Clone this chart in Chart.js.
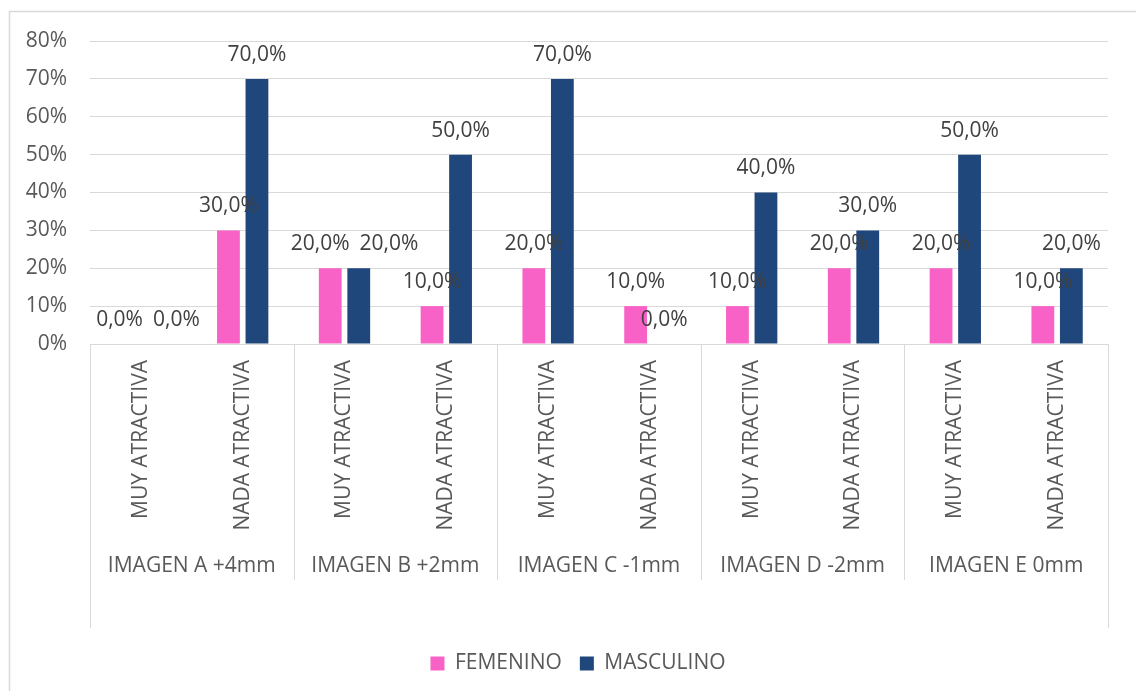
<!DOCTYPE html>
<html>
<head>
<meta charset="utf-8">
<script src="https://cdn.jsdelivr.net/npm/chart.js@4.4.1/dist/chart.umd.min.js"></script>
<style>
  body { margin: 0; background: #fff; overflow: hidden; }
  #wrap { width: 1136px; height: 691px; position: relative; }
</style>
</head>
<body>
<div id="wrap"><canvas id="barChart"></canvas></div>
<script>
// datos
var grupos = ["IMAGEN A +4mm", "IMAGEN B +2mm", "IMAGEN C -1mm", "IMAGEN D -2mm", "IMAGEN E 0mm"];
var categorias = [
  "MUY ATRACTIVA", "NADA ATRACTIVA",
  "MUY ATRACTIVA", "NADA ATRACTIVA",
  "MUY ATRACTIVA", "NADA ATRACTIVA",
  "MUY ATRACTIVA", "NADA ATRACTIVA",
  "MUY ATRACTIVA", "NADA ATRACTIVA"
];
var femenino = [0, 30, 20, 10, 20, 10, 10, 20, 20, 10];
var masculino = [0, 70, 20, 50, 70, 0, 40, 30, 50, 20];
var ejeY = { min: 0, max: 80, paso: 10 };

var fuente = "'Open Sans', 'Noto Sans', sans-serif";
var gris = "#d9d9d9";

// marco exterior del grafico
var marco = {
  id: "marco",
  beforeDraw: function (chart) {
    var ctx = chart.ctx;
    ctx.save();
    ctx.strokeStyle = gris;
    ctx.lineWidth = 1.5;
    ctx.beginPath();
    ctx.moveTo(9.5, chart.height);
    ctx.lineTo(9.5, 11.5);
    ctx.lineTo(chart.width, 11.5);
    ctx.stroke();
    ctx.restore();
  }
};

// la leyenda va algo a la derecha, como en el original
var moverLeyenda = {
  id: "moverLeyenda",
  afterLayout: function (chart) {
    if (chart.legend) {
      chart.legend.left += 24;
      chart.legend.right += 24;
    }
  }
};

// separadores y nombres de grupo en el eje x
var ejeGrupos = {
  id: "ejeGrupos",
  afterDraw: function (chart) {
    var ctx = chart.ctx;
    var x = chart.scales.x;
    var area = chart.chartArea;
    var medio = (x.getPixelForValue(1) - x.getPixelForValue(0)) / 2;
    ctx.save();
    ctx.strokeStyle = gris;
    ctx.lineWidth = 1;
    for (var g = 0; g <= grupos.length; g++) {
      var px = g < grupos.length ? x.getPixelForValue(g * 2) - medio : x.getPixelForValue(g * 2 - 1) + medio;
      px = Math.round(px) + 0.5;
      var fin = (g === 0 || g === grupos.length) ? 628 : 580;
      ctx.beginPath();
      ctx.moveTo(px, area.bottom);
      ctx.lineTo(px, fin);
      ctx.stroke();
    }
    ctx.fillStyle = "#595959";
    ctx.font = "21px " + fuente;
    ctx.textAlign = "center";
    ctx.textBaseline = "middle";
    grupos.forEach(function (nombre, g) {
      var cx = (x.getPixelForValue(g * 2) + x.getPixelForValue(g * 2 + 1)) / 2;
      ctx.fillText(nombre, cx, 566);
    });
    ctx.restore();
  }
};

// etiquetas de datos sobre las barras
var etiquetas = {
  id: "etiquetas",
  afterDatasetsDraw: function (chart) {
    var ctx = chart.ctx;
    ctx.save();
    ctx.font = "21px " + fuente;
    ctx.fillStyle = "#404040";
    ctx.textAlign = "center";
    ctx.textBaseline = "middle";
    var n = chart.data.labels.length;
    for (var i = 0; i < n; i++) {
      var items = chart.data.datasets.map(function (ds, d) {
        var bar = chart.getDatasetMeta(d).data[i];
        var texto = ds.data[i].toFixed(1).replace(".", ",") + "%";
        return { x: bar.x, y: bar.y - 24, texto: texto, w: ctx.measureText(texto).width };
      });
      var a = items[0], b = items[1];
      if (Math.abs(a.y - b.y) < 14) {
        var falta = (a.w + b.w) / 2 + 10 - (b.x - a.x);
        if (falta > 0) {
          a.x -= falta / 4;
          b.x += falta * 3 / 4;
        }
      }
      items.forEach(function (it) { ctx.fillText(it.texto, it.x, it.y); });
    }
    ctx.restore();
  }
};

var ctxB = document.getElementById("barChart").getContext("2d");
var grafico = new Chart(ctxB, {
  type: "bar",
  data: {
    labels: categorias,
    datasets: [
      { label: "FEMENINO", data: femenino, backgroundColor: "#F862C6" },
      { label: "MASCULINO", data: masculino, backgroundColor: "#1F477B" }
    ]
  },
  options: {
    responsive: true,
    maintainAspectRatio: false,
    animation: false,
    categoryPercentage: 0.56,
    barPercentage: 0.8,
    layout: { padding: { left: 0, right: 28, top: 41, bottom: 7 } },
    scales: {
      x: {
        grid: { display: false, drawTicks: false },
        border: { display: true, color: gris, width: 1 },
        ticks: {
          autoSkip: false,
          minRotation: 90,
          maxRotation: 90,
          padding: 16,
          color: "#595959",
          font: { family: fuente, size: 21 }
        },
        afterFit: function (scale) { scale.height = 291; }
      },
      y: {
        min: ejeY.min,
        max: ejeY.max,
        grid: { color: gris, lineWidth: 1, drawTicks: false },
        border: { display: false },
        ticks: {
          stepSize: ejeY.paso,
          padding: 23,
          color: "#595959",
          font: { family: fuente, size: 21 },
          callback: function (v) { return v + "%"; }
        },
        afterFit: function (scale) { scale.width = 90; }
      }
    },
    plugins: {
      legend: {
        position: "bottom",
        labels: {
          boxWidth: 14,
          boxHeight: 14,
          padding: 18,
          color: "#595959",
          font: { family: fuente, size: 21 }
        }
      },
      tooltip: { enabled: false }
    }
  },
  plugins: [marco, moverLeyenda, ejeGrupos, etiquetas]
});
</script>
</body>
</html>
